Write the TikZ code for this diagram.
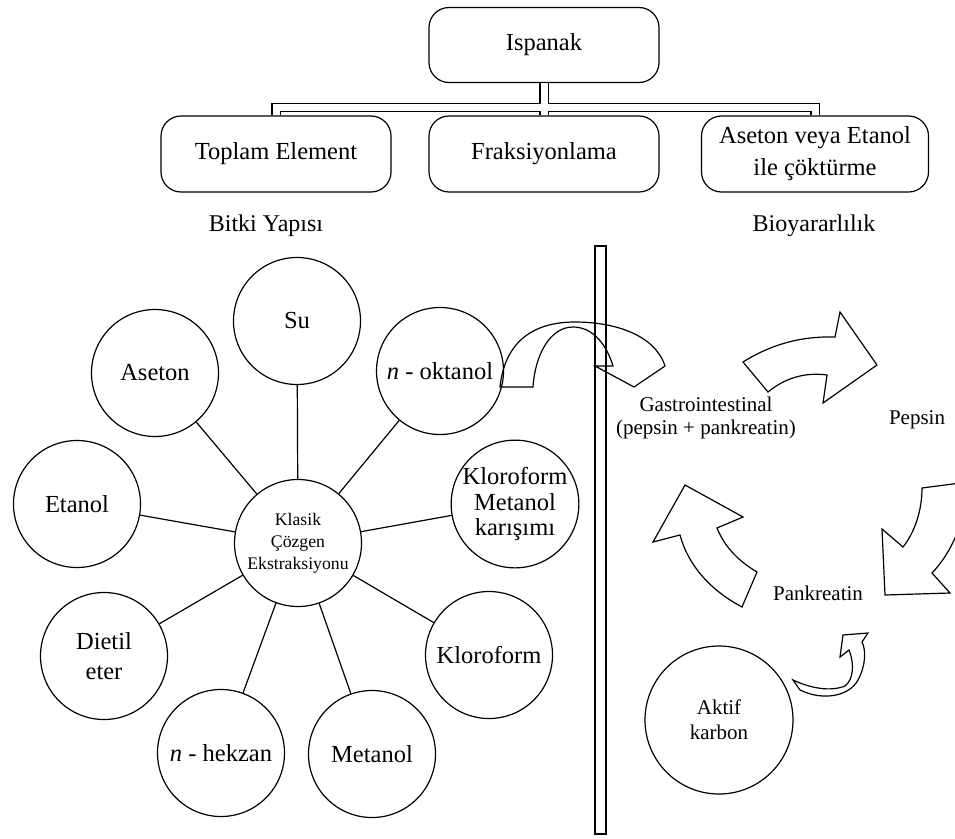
\documentclass[tikz,border=0pt]{standalone}
\usepackage{fontspec}
\setmainfont{Liberation Serif}
\begin{document}
\begin{tikzpicture}[x=1pt,y=-1pt,
  every node/.style={inner sep=0pt},
  topbox/.style={draw, rounded corners=20pt, line width=1.2pt, minimum width=230pt,
    minimum height=75pt, align=center, font=\fontsize{24.5}{32}\selectfont},
  solvent/.style={draw, circle, line width=1.2pt, minimum size=127pt, align=center,
    font=\fontsize{24.5}{25.5}\selectfont},
  spoke/.style={line width=1.2pt},
  bus/.style={double, double distance=7pt, line width=1.2pt},
  label/.style={font=\fontsize{24}{28}\selectfont},
  smalllabel/.style={align=center, font=\fontsize{21}{23}\selectfont},
  bigarrow/.style={draw, line width=1.2pt, line join=miter},
]
\useasboundingbox (0,0) rectangle (955,838);

% ---- tree at the top ----
\node[topbox] (isp) at (544,45) {Ispanak};
\node[topbox, minimum height=76pt] (toplam) at (276,154) {Toplam Element};
\node[topbox, minimum height=76pt] (frak) at (544,154) {Fraksiyonlama};
\node[topbox, minimum width=227pt, minimum height=76pt] (asebox) at (815,154) {Aseton veya Etanol\\ile çöktürme};
\coordinate (busc) at (544,107.5);
\draw[bus] (isp.south) -- (busc)
  (toplam.north) -- (toplam.north |- busc) -- (asebox.north |- busc) -- (asebox.north)
  (busc) -- (frak.north);

\node[label] (bitki) at (266,226) {Bitki Yapısı};
\node[label] (bio) at (814,226) {Bioyararlılık};

% ---- solvent wheel ----
\node[solvent, font=\fontsize{17.7}{22}\selectfont] (klasik) at (298,543) {Klasik\\Çözgen\\Ekstraksiyonu};
\node[solvent] (su) at (297,321) {Su};
\node[solvent] (aseton) at (155,373) {Aseton};
\node[solvent] (oktanol) at (440,371) {\textit{n} - oktanol};
\node[solvent] (etanol) at (77,504) {Etanol};
\node[solvent] (klomet) at (515,504) {Kloroform\\Metanol\\karışımı};
\node[solvent, font=\fontsize{24.5}{30}\selectfont] (dietil) at (104,656) {Dietil\\eter};
\node[solvent] (kloroform) at (489,655) {Kloroform};
\node[solvent] (hekzan) at (221,753) {\textit{n} - hekzan};
\node[solvent] (metanol) at (372,754) {Metanol};
\foreach \s in {su,aseton,oktanol,etanol,klomet,dietil,kloroform,hekzan,metanol}
  \draw[spoke] (klasik) -- (\s);

% ---- divider ----
\node[draw, line width=1.2pt, minimum width=11pt, minimum height=588pt] (bar) at (600.5,540) {};

% ---- digestion side ----
\node[smalllabel] (gastro) at (706,418) {Gastrointestinal\\(pepsin + pankreatin)};
\node[smalllabel] (pepsin) at (917,420) {Pepsin};
\node[smalllabel] (pank) at (818,593) {Pankreatin};
\node[draw, circle, line width=1.2pt, minimum size=148pt, smalllabel,
  font=\fontsize{21}{25}\selectfont] (aktif) at (719,720) {Aktif\\karbon};

% curved arrow from the wheel across the divider
\draw[bigarrow] (500,387) .. controls (505,340) and (535,322) .. (575,322)
  .. controls (615,322) and (655,335) .. (665,366)
  -- (634,387) -- (595,366) -- (613,366)
  .. controls (605,340) and (590,327) .. (573,327)
  .. controls (550,327) and (535,355) .. (533,387) -- cycle;

% cycle of three arrows
\draw[bigarrow] (743,362) .. controls (770,345) and (800,336) .. (835,337)
  -- (840,312) -- (877,365) -- (823,403) -- (827,375)
  .. controls (805,372) and (785,378) .. (768,392) -- cycle;
\begin{scope}
  \clip (0,0) rectangle (955,838);
  \draw[bigarrow] (922,488) .. controls (922,510) and (915,532) .. (903,547)
    -- (882,529) -- (885,595) -- (950,593) -- (932,573)
    .. controls (952,552) and (966,520) .. (968,482) -- cycle;
\end{scope}
\draw[bigarrow] (685,485) -- (743,517) -- (717,528)
  .. controls (725,548) and (740,562) .. (757,572)
  -- (742,607) .. controls (710,590) and (688,565) .. (680,535)
  -- (653,542) -- cycle;

% small arrow from the carbon to Pankreatin
\draw[bigarrow] (800,690) .. controls (825,702) and (850,695) .. (858,680)
  .. controls (866,665) and (866,650) .. (862,642)
  -- (868,633) -- (843,635) -- (840,657) -- (849,650)
  .. controls (855,665) and (853,680) .. (845,686)
  .. controls (830,692) and (810,688) .. (793,680) -- cycle;
\end{tikzpicture}
\end{document}
